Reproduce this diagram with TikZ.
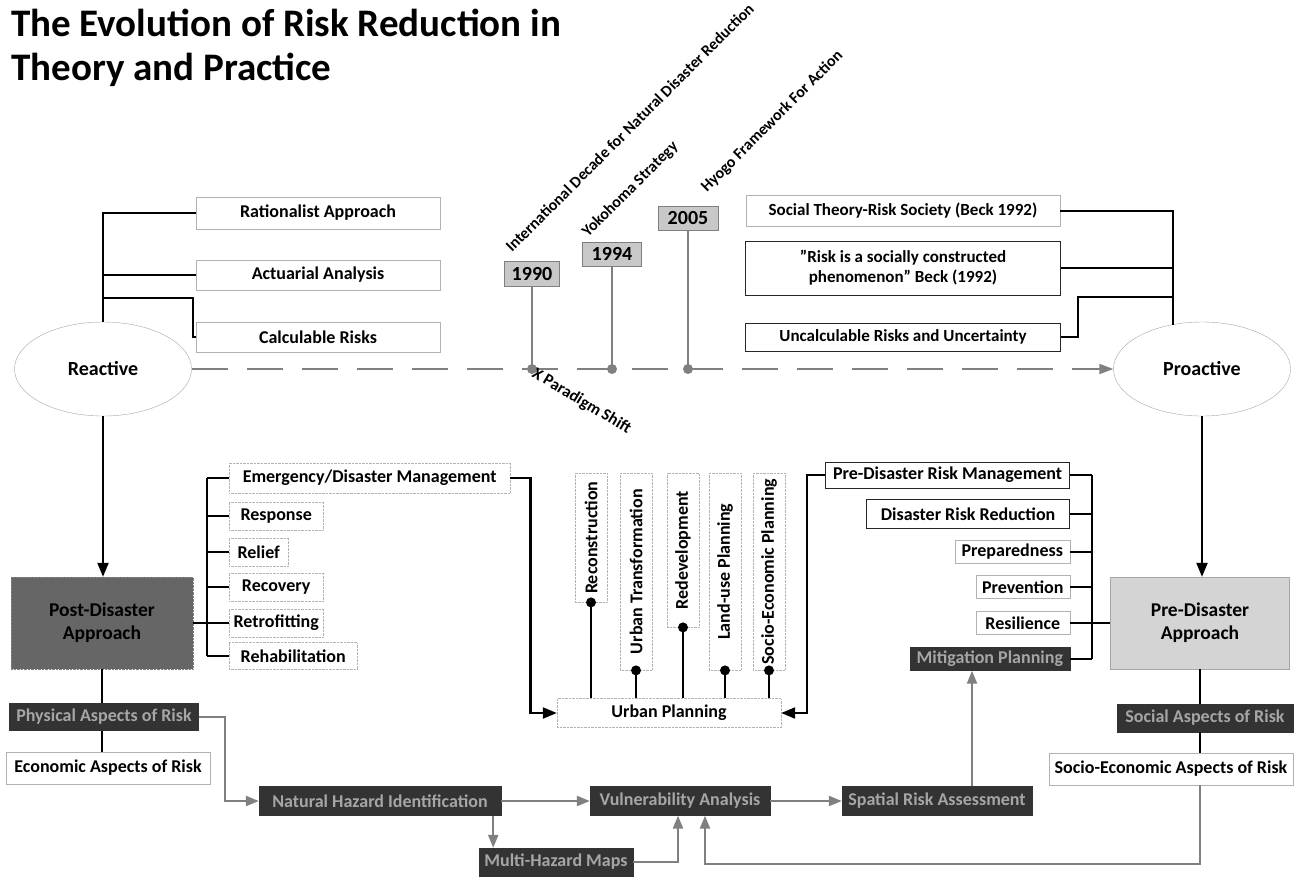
\documentclass[tikz,border=0pt]{standalone}
\usepackage{fontspec}
\setmainfont{Carlito}
\usetikzlibrary{arrows.meta,shapes.geometric}

\definecolor{boxdark}{RGB}{51,51,51}
\definecolor{textdark}{RGB}{166,166,166}
\definecolor{linkgray}{RGB}{128,128,128}
\definecolor{postfill}{RGB}{102,102,102}
\definecolor{prefill}{RGB}{212,212,212}
\definecolor{yearfill}{RGB}{200,200,200}

\begin{document}
\begin{tikzpicture}[x=1pt,y=-1pt,
	txt/.style={font=\fontsize{18}{21}\selectfont\bfseries},
	box/.style={draw=gray!60,fill=white,inner sep=0pt,txt},
	blackbox/.style={box,draw=black!85,thick},
	dotbox/.style={box,densely dotted},
	darkbox/.style={box,draw=boxdark,fill=boxdark,text=textdark},
	vbox/.style={dotbox,rotate=90,anchor=east,minimum height=32pt},
	yearbox/.style={box,fill=yearfill,draw=gray,font=\fontsize{20}{22}\selectfont\bfseries},
	oval/.style={ellipse,draw=gray!70,fill=white,minimum width=177pt,minimum height=94pt,font=\fontsize{20}{22}\selectfont\bfseries},
	bigbox/.style={box,minimum width=181pt,minimum height=92pt,align=center,font=\fontsize{19.5}{23}\selectfont\bfseries},
	vlabel/.style={inner sep=0pt,font=\fontsize{16}{18}\selectfont\bfseries},
	tree/.style={line width=2.2pt},
	treearrow/.style={tree,-{Triangle[length=14pt,width=11pt]}},
	flow/.style={line width=2.2pt,linkgray,-{Triangle[length=13pt,width=10pt]}},
	stem/.style={line width=2pt,linkgray}]

\useasboundingbox[fill=white] (0,0) rectangle (1298,876);

\node[anchor=north west,align=left,inner sep=0pt,font=\fontsize{39}{44}\selectfont\bfseries] (title) at (11,9)
	{The Evolution of Risk Reduction in\\Theory and Practice};

\node[oval] (reac) at (103,369) {Reactive};
\node[oval] (proa) at (1202,369) {Proactive};

\node[box,minimum width=244pt,minimum height=32pt] (rat) at (318,213) {Rationalist Approach};
\node[box,minimum width=244pt,minimum height=30pt] (act) at (318,275) {Actuarial Analysis};
\node[box,minimum width=244pt,minimum height=30pt] (calc) at (318,337) {Calculable Risks};

\node[box,font=\fontsize{17}{20}\selectfont\bfseries,minimum width=314pt,minimum height=31pt] (soc) at (903,211) {Social Theory-Risk Society (Beck 1992)};
\node[blackbox,font=\fontsize{17}{20}\selectfont\bfseries,minimum width=315pt,minimum height=54pt,align=center] (beck) at (903,268)
	{''Risk is a socially constructed\\phenomenon'' Beck (1992)};
\node[blackbox,font=\fontsize{17}{20}\selectfont\bfseries,minimum width=315pt,minimum height=28pt] (uncalc) at (903,337) {Uncalculable Risks and Uncertainty};

\coordinate (lbend) at (193,298);
\coordinate (rbend) at (1078,297);
\coordinate (rtop) at (1173,325);
\draw[tree] (reac.north) |- (rat.west);
\draw[tree] (reac.north) |- (act.west);
\draw[tree] (reac.north |- lbend) -- (lbend) |- (calc.west);
\draw[tree] (rtop) |- (soc.east);
\draw[tree] (rtop) |- (beck.east);
\draw[tree] (rtop |- rbend) -- (rbend) |- (uncalc.east);

\draw[linkgray,line width=2pt,dash pattern=on 36pt off 19pt,-{Triangle[length=14pt,width=10pt]}] (reac.east) -- (proa.west);

\node[yearbox,minimum width=55pt,minimum height=25pt] (y1990) at (532,274) {1990};
\node[yearbox,minimum width=59pt,minimum height=24pt] (y1994) at (612,254) {1994};
\node[yearbox,minimum width=60pt,minimum height=24pt] (y2005) at (688,218) {2005};
\foreach \yr in {1990,1994,2005}
	{\draw[stem] (y\yr.south) -- (y\yr.south |- reac.east) coordinate (p\yr);
	\fill[linkgray] (p\yr) circle (5pt);}

\node[vlabel,rotate=45,anchor=base west] (idndr) at (512,253) {International Decade for Natural Disaster Reduction};
\node[vlabel,rotate=45,anchor=base west] (yoko) at (588,238) {Yokohoma Strategy};
\node[vlabel,rotate=45,anchor=base west] (hyogo) at (707,193) {Hyogo Framework For Action};
\node[vlabel,font=\fontsize{16.5}{18}\selectfont\bfseries,rotate=-31,anchor=north west] (shift) at (537,366) {X Paradigm Shift};

\node[bigbox,draw=gray,densely dotted,fill=postfill,minimum width=182pt] (post) at (102,623)
	{Post-Disaster\\Approach};
\node[bigbox,draw=gray!70,fill=prefill,minimum width=179pt] (pre) at (1200,623)
	{Pre-Disaster\\Approach};
\draw[treearrow] (reac.south) -- (reac.south |- post.north);
\draw[treearrow] (proa.south) -- (proa.south |- pre.north);

\node[dotbox,anchor=west,minimum width=281pt,minimum height=30pt] (emg) at (229,478) {Emergency/Disaster Management};
\node[dotbox,anchor=west,minimum width=94pt,minimum height=28pt] (resp) at (229,516) {Response};
\node[dotbox,anchor=west,minimum width=59pt,minimum height=28pt] (relief) at (229,552) {Relief};
\node[dotbox,anchor=west,minimum width=94pt,minimum height=28pt] (recov) at (229,587) {Recovery};
\node[dotbox,anchor=west,minimum width=94pt,minimum height=28pt] (retro) at (229,623) {Retrofitting};
\node[dotbox,anchor=west,minimum width=128pt,minimum height=27pt] (rehab) at (229,656) {Rehabilitation};

\coordinate (ltr) at (207,0);
\draw[tree] (ltr |- emg.west) -- (ltr |- rehab.west);
\draw[tree] (post.east) -- (ltr |- post.east);
\foreach \n in {emg,resp,relief,recov,retro,rehab}
	\draw[tree] (ltr |- \n.west) -- (\n.west);

\node[dotbox,minimum width=224pt,minimum height=29pt] (urban) at (669,713) {Urban Planning};
\draw[treearrow] (emg.east) -- ++(20,0) |- (urban.west);

\node[vbox,minimum width=129pt] (recon) at (591,473) {Reconstruction};
\node[vbox,minimum width=197pt] (utrans) at (636,473) {Urban Transformation};
\node[vbox,minimum width=154pt] (redev) at (683,473) {Redevelopment};
\node[vbox,minimum width=197pt] (landuse) at (725,473) {Land-use Planning};
\node[vbox,minimum width=197pt] (socioplan) at (769,473) {Socio-Economic Planning};
\foreach \n in {recon,utrans,redev,landuse,socioplan}
	{\draw[tree] (\n.west) -- (\n.west |- urban.north);
	\fill (\n.west) circle (5pt);}

\node[blackbox,anchor=east,minimum width=244pt,minimum height=26pt] (prm) at (1070,475) {Pre-Disaster Risk Management};
\node[blackbox,anchor=east,minimum width=203pt,minimum height=29pt] (drr) at (1070,514) {Disaster Risk Reduction};
\node[box,anchor=east,minimum width=115pt,minimum height=23pt] (prep) at (1070,552) {Preparedness};
\node[box,anchor=east,minimum width=94pt,minimum height=23pt] (prev) at (1070,587) {Prevention};
\node[box,anchor=east,minimum width=94pt,minimum height=23pt] (resil) at (1070,623) {Resilience};
\node[darkbox,anchor=east,minimum width=160pt,minimum height=23pt] (mitig) at (1070,659) {Mitigation Planning};

\coordinate (rtr) at (1092,0);
\draw[tree] (rtr |- prm.east) -- (rtr |- mitig.east);
\draw[tree] (rtr |- pre.west) -- (pre.west);
\foreach \n in {prm,drr,prep,prev,resil,mitig}
	\draw[tree] (\n.east) -- (rtr |- \n.east);
\draw[treearrow] (prm.west) -- ++(-18,0) |- (urban.east);

\node[darkbox,minimum width=189pt,minimum height=27pt] (phys) at (104,717) {Physical Aspects of Risk};
\node[box,minimum width=204pt,minimum height=32pt] (econ) at (108,768) {Economic Aspects of Risk};
\node[darkbox,minimum width=176pt,minimum height=28pt] (social) at (1205,718) {Social Aspects of Risk};
\node[box,minimum width=244pt,minimum height=32pt] (seco) at (1171,769) {Socio-Economic Aspects of Risk};
\draw[tree] (post.south) -- (post.south |- phys.north);
\draw[tree] (post.south |- phys.south) -- (post.south |- econ.north);
\draw[tree] (pre.south) -- (pre.south |- social.north);
\draw[tree] (pre.south |- social.south) -- (pre.south |- seco.north);

\node[darkbox,minimum width=242pt,minimum height=29pt] (nhi) at (380,801) {Natural Hazard Identification};
\node[darkbox,minimum width=180pt,minimum height=29pt] (vuln) at (680,801) {Vulnerability Analysis};
\node[darkbox,minimum width=190pt,minimum height=29pt] (spat) at (937,801) {Spatial Risk Assessment};
\node[darkbox,minimum width=154pt,minimum height=28pt] (mhm) at (556,862) {Multi-Hazard Maps};

\draw[flow] (phys.east) -- ++(26,0) |- (nhi.west);
\draw[flow] (nhi) -- (vuln);
\draw[flow] (vuln) -- (spat);
\draw[flow] ([xshift=-8pt]nhi.south east) -- ([xshift=-8pt]nhi.south east |- mhm.north);
\draw[flow] (mhm.east) -| ([xshift=-2pt]vuln.south);
\draw[flow] (pre.south |- seco.south) -- ++(0,79) -| ([xshift=25pt]vuln.south);
\draw[flow] ([xshift=35pt]spat.north) -- ([xshift=35pt]spat.north |- mitig.south);

\end{tikzpicture}
\end{document}
